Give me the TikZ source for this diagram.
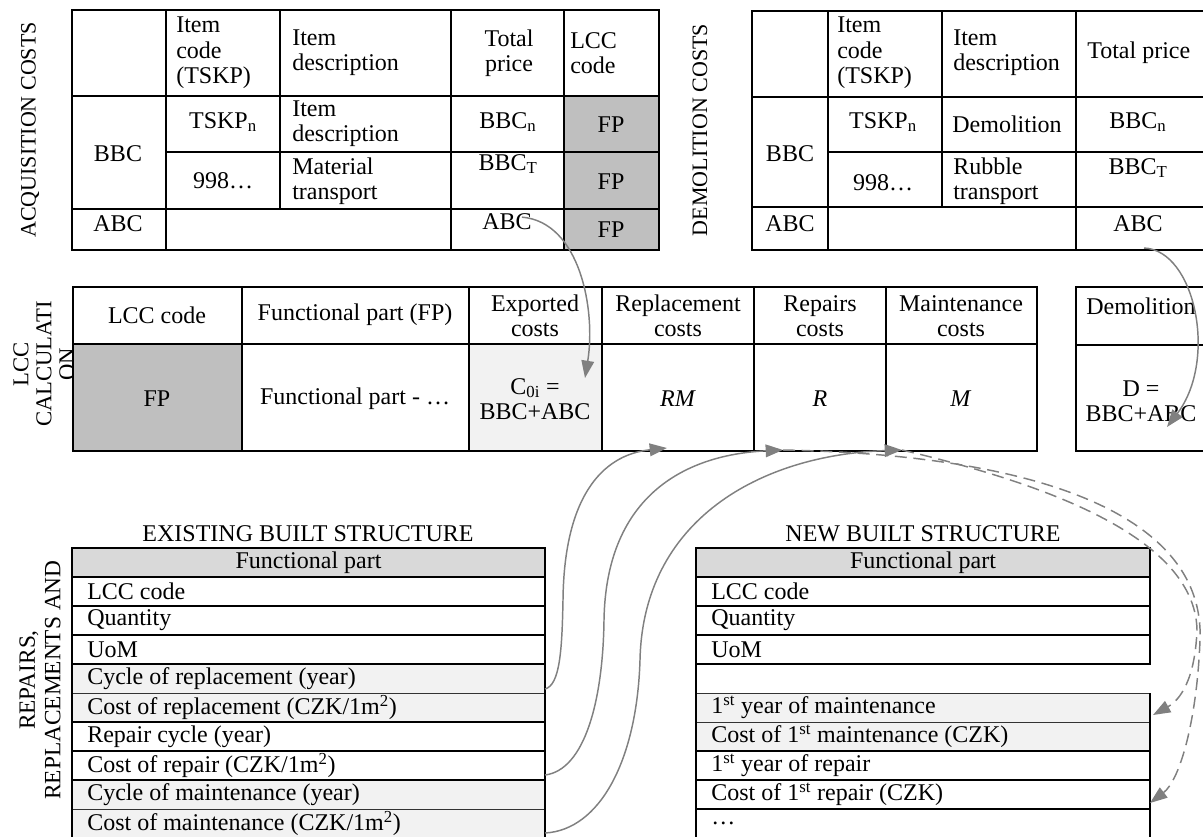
\documentclass[tikz,border=0pt]{standalone}
\usepackage{fontspec}
\setmainfont{Liberation Serif}
\usetikzlibrary{fit,arrows.meta}
\definecolor{fpgray}{HTML}{BFBFBF}
\definecolor{hdrgray}{HTML}{D9D9D9}
\definecolor{lightrow}{HTML}{F2F2F2}
\definecolor{conngray}{HTML}{808080}
\newcommand\tcell[4][]{\node[cellb,fit={#3 #4},#1] (#2) {};}
\newcommand\trow[4][]{\node[rowb,fit={#3 #4},#1] (#2) {};}
\newcommand\grow[4][]{\node[growb,fit={#3 #4},#1] (#2) {};}
\begin{document}
\begin{tikzpicture}[x=0.75pt,y=-0.75pt,
  cellb/.style={draw=black,line width=1.6pt,inner sep=0pt,outer sep=0pt},
  rowb/.style={draw=black,line width=1.4pt,inner sep=0pt,outer sep=0pt},
  growb/.style={draw=black!80,line width=0.7pt,fill=lightrow,inner sep=0pt,outer sep=0pt},
  txt/.style={inner sep=0pt,font=\fontsize{18}{19}\selectfont,align=center},
  ltxt/.style={txt,anchor=west,align=left},
  side/.style={inner sep=0pt,rotate=90,align=center},
  conn/.style={draw=conngray,line width=1.1pt,-{Triangle[length=13pt,width=9.5pt]}},
  dconn/.style={conn,dash pattern=on 9pt off 5pt},
]
\useasboundingbox (0,0) rectangle (1203,836);

% ---------------- ACQUISITION COSTS ----------------
\node[side,font=\fontsize{16.5}{19}\selectfont] (lacq) at (30,130) {ACQUISITION COSTS};
\tcell{ah1}{(72,10)}{(166,96)}
\tcell{ah2}{(166,10)}{(280,96)}
\tcell{ah3}{(280,10)}{(451,96)}
\tcell{ah4}{(451,10)}{(564,96)}
\tcell{ah5}{(564,10)}{(659,96)}
\tcell{abbc}{(72,96)}{(166,209)}
\tcell{a22}{(166,96)}{(280,152)}
\tcell{a23}{(280,96)}{(451,152)}
\tcell{a24}{(451,96)}{(564,152)}
\tcell{a32}{(166,152)}{(280,209)}
\tcell{a33}{(280,152)}{(451,209)}
\tcell{a34}{(451,152)}{(564,209)}
\tcell{aabc}{(72,209)}{(166,250)}
\tcell{a42}{(166,209)}{(451,250)}
\tcell{a44}{(451,209)}{(564,250)}
\tcell[fill=fpgray]{a25}{(564,96)}{(659,152)}
\tcell[fill=fpgray]{a35}{(564,152)}{(659,209)}
\tcell[fill=fpgray]{a45}{(564,209)}{(659,250)}

\node[ltxt] (tah2) at (176,53) {Item\\code\\(TSKP)};
\node[ltxt] (tah3) at (292,53) {Item\\description};
\node[txt] (tah4) at (509,53) {Total\\price};
\node[ltxt] (tah5) at (570,53) {LCC\\code};
\node[txt] (ta22) at (223,122) {TSKP\textsubscript{n}};
\node[ltxt] (ta23) at (292,124) {Item\\description};
\node[txt] (ta24) at (508,122) {BBC\textsubscript{n}};
\node[txt] (ta25) at (611,125) {FP};
\node[txt] (ta32) at (223,181) {998…};
\node[ltxt] (ta33) at (292,181) {Material\\transport};
\node[txt] (ta34) at (508,164) {BBC\textsubscript{T}};
\node[txt] (ta35) at (611,182) {FP};
\node[txt] (tabbc) at (118,154) {BBC};
\node[txt] (taabc) at (118,224) {ABC};
\node[txt] (ta44) at (507,222) {ABC};
\node[txt] (ta45) at (611,230) {FP};

% ---------------- DEMOLITION COSTS ----------------
\node[side,font=\fontsize{16.5}{19}\selectfont] (ldem) at (700,130) {DEMOLITION COSTS};
\tcell{dh1}{(752,11)}{(828,97)}
\tcell{dh2}{(828,11)}{(942,97)}
\tcell{dh3}{(942,11)}{(1076,97)}
\tcell{dh4}{(1076,11)}{(1212,97)}
\tcell{dbbc}{(752,97)}{(828,207)}
\tcell{d22}{(828,97)}{(942,152)}
\tcell{d23}{(942,97)}{(1076,152)}
\tcell{d24}{(1076,97)}{(1212,152)}
\tcell{d32}{(828,152)}{(942,207)}
\tcell{d33}{(942,152)}{(1076,207)}
\tcell{d34}{(1076,152)}{(1212,207)}
\tcell{dabc}{(752,207)}{(828,250)}
\tcell{d42}{(828,207)}{(1076,250)}
\tcell{d44}{(1076,207)}{(1212,250)}

\node[ltxt] (tdh2) at (837,53) {Item\\code\\(TSKP)};
\node[ltxt] (tdh3) at (953,53) {Item\\description};
\node[ltxt] (tdh4) at (1087,53) {Total price};
\node[txt] (td22) at (883,122) {TSKP\textsubscript{n}};
\node[txt] (td23) at (1007,124) {Demolition};
\node[txt] (td24) at (1138,122) {BBC\textsubscript{n}};
\node[txt] (td32) at (883,183) {998…};
\node[ltxt] (td33) at (953,181) {Rubble\\transport};
\node[txt] (td34) at (1138,168) {BBC\textsubscript{T}};
\node[txt] (tdbbc) at (790,154) {BBC};
\node[txt] (tdabc) at (790,224) {ABC};
\node[txt] (td44) at (1138,224) {ABC};

% ---------------- LCC CALCULATION ----------------
\node[side,font=\fontsize{17}{17.2}\selectfont] (llcc) at (44,364) {LCC\\CALCULATI\\ON};
\tcell{lh1}{(73,287)}{(242,344)}
\tcell{lh2}{(242,287)}{(469,344)}
\tcell{lh3}{(469,287)}{(602,344)}
\tcell{lh4}{(602,287)}{(754,344)}
\tcell{lh5}{(754,287)}{(886,344)}
\tcell{lh6}{(886,287)}{(1037,344)}
\tcell[fill=fpgray]{lb1}{(73,344)}{(242,451)}
\tcell{lb2}{(242,344)}{(469,451)}
\tcell[fill=lightrow]{lb3}{(469,344)}{(602,451)}
\tcell{lb4}{(602,344)}{(754,451)}
\tcell{lb5}{(754,344)}{(886,451)}
\tcell{lb6}{(886,344)}{(1037,451)}
\tcell{ldh}{(1076,287)}{(1212,345)}
\tcell{ldb}{(1076,345)}{(1212,451)}

\node[txt] (tlh1) at (157,315) {LCC code};
\node[txt] (tlh2) at (355,315) {Functional part (FP)};
\node[txt] (tlh3) at (535,316) {Exported\\costs};
\node[txt] (tlh4) at (678,316) {Replacement\\costs};
\node[txt] (tlh5) at (820,316) {Repairs\\costs};
\node[txt] (tlh6) at (961,316) {Maintenance\\costs};
\node[txt] (tldh) at (1141,306) {Demolition};
\node[txt] (tlb1) at (157,399) {FP};
\node[txt] (tlb2) at (355,399) {Functional part - …};
\node[txt] (tlb3) at (535,399) {C\textsubscript{0i} =\\BBC+ABC};
\node[txt] (tlb4) at (678,399) {\textit{RM}};
\node[txt] (tlb5) at (820,399) {\textit{R}};
\node[txt] (tlb6) at (961,399) {\textit{M}};
\node[txt] (tldb) at (1141,401) {D =\\BBC+ABC};

% ---------------- EXISTING BUILT STRUCTURE ----------------
\node[side,font=\fontsize{17.5}{19}\selectfont] (lrep) at (40,680) {REPAIRS,\\REPLACEMENTS AND};
\node[txt] (lex) at (308,534) {EXISTING BUILT STRUCTURE};
\trow[fill=hdrgray]{exh}{(72,548)}{(545,577)}
\grow{ex4}{(72,664)}{(545,693)}
\grow{ex5}{(72,693)}{(545,722)}
\grow{ex8}{(72,780)}{(545,809)}
\grow{ex9}{(72,809)}{(545,838)}
\trow{ex1}{(72,577)}{(545,606)}
\trow{ex2}{(72,606)}{(545,635)}
\trow{ex3}{(72,635)}{(545,664)}
\trow{ex6}{(72,722)}{(545,751)}
\trow{ex7}{(72,751)}{(545,780)}
\draw[line width=1.4pt] (exh.north west) -- (ex9.south west);
\draw[line width=1.4pt] (exh.north east) -- (ex9.south east);

\node[txt] (texh) at (exh) {Functional part};
\node[ltxt] (tex1) at (87,591.5) {LCC code};
\node[ltxt] (tex2) at (87,620.5) {Quantity};
\node[ltxt] (tex3) at (87,649.5) {UoM};
\node[ltxt] (tex4) at (87,678.5) {Cycle of replacement (year)};
\node[ltxt] (tex5) at (87,707.5) {Cost of replacement (CZK/1m\textsuperscript{2})};
\node[ltxt] (tex6) at (87,736.5) {Repair cycle (year)};
\node[ltxt] (tex7) at (87,765.5) {Cost of repair (CZK/1m\textsuperscript{2})};
\node[ltxt] (tex8) at (87,794.5) {Cycle of maintenance (year)};
\node[ltxt] (tex9) at (87,823.5) {Cost of maintenance (CZK/1m\textsuperscript{2})};

% ---------------- NEW BUILT STRUCTURE ----------------
\node[txt] (lnw) at (923,534) {NEW BUILT STRUCTURE};
\trow[fill=hdrgray]{nwh}{(696,548)}{(1150,577)}
\grow{nw4}{(696,693)}{(1150,722)}
\grow{nw5}{(696,722)}{(1150,751)}
\trow{nw1}{(696,577)}{(1150,606)}
\trow{nw2}{(696,606)}{(1150,635)}
\trow{nw3}{(696,635)}{(1150,664)}
\trow{nw6}{(696,751)}{(1150,780)}
\trow{nw7}{(696,780)}{(1150,809)}
\trow{nw8}{(696,809)}{(1150,838)}
\draw[line width=1.4pt] (nwh.north west) -- (nw8.south west);
\draw[line width=1.4pt] (nw4.north east) -- (nw8.south east);

\node[txt] (tnwh) at (nwh) {Functional part};
\node[ltxt] (tnw1) at (711,591.5) {LCC code};
\node[ltxt] (tnw2) at (711,620.5) {Quantity};
\node[ltxt] (tnw3) at (711,649.5) {UoM};
\node[ltxt] (tnw4) at (711,707.5) {1\textsuperscript{st} year of maintenance};
\node[ltxt] (tnw5) at (711,736.5) {Cost of 1\textsuperscript{st} maintenance (CZK)};
\node[ltxt] (tnw6) at (711,765.5) {1\textsuperscript{st} year of repair};
\node[ltxt] (tnw7) at (711,794.5) {Cost of 1\textsuperscript{st} repair (CZK)};
\node[ltxt] (tnw8) at (711,823.5) {…};

% ---------------- CONNECTORS ----------------
\coordinate (t1) at (585,378);
\coordinate (t2) at (1167,427);
\coordinate (t3) at (667,448);
\coordinate (t4) at (783,450);
\coordinate (t5) at (902,450);
\coordinate (t6) at (1153,715);
\coordinate (t7) at (1150,803);

\draw[conn] ([xshift=-7.5pt,yshift=-2.6pt]ta44.north east) .. controls (580,222) and (596,310) .. (t1);
\draw[conn] ([yshift=1.5pt]d44.south) .. controls (1195,250) and (1218,360) .. (t2);
\draw[conn] ([yshift=3pt]ex4.south east) .. controls (560,685) and (562,650) .. (563,600) .. controls (564,500) and (600,455) .. (t3);
\draw[conn] ([yshift=3.75pt]ex7.south east) .. controls (585,770) and (603,700) .. (604,620) .. controls (606,500) and (680,455) .. (t4);
\draw[conn] ([yshift=3.75pt]ex9.south east) .. controls (600,830) and (637,760) .. (640,660) .. controls (643,520) and (760,455) .. (t5);
\draw[dconn] (t4) .. controls (1050,455) and (1205,520) .. (1200,640) .. controls (1197,720) and (1180,780) .. (t7);
\draw[dconn] (t5) .. controls (1020,478) and (1195,530) .. (1197,630) .. controls (1195,680) and (1180,700) .. (t6);
\end{tikzpicture}
\end{document}
